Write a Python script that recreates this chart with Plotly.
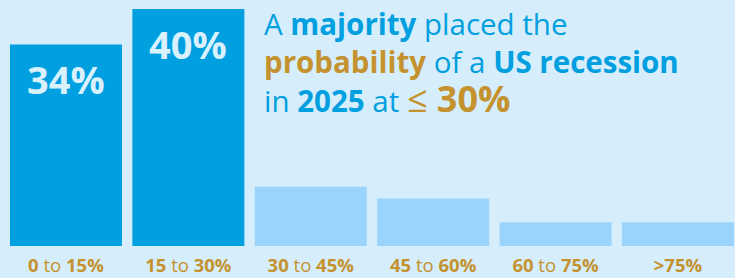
import plotly.graph_objects as go

categories = ["0 to 15%", "15 to 30%", "30 to 45%", "45 to 60%", "60 to 75%", ">75%"]
tick_labels = ["<b>0</b> to <b>15%</b>", "<b>15</b> to <b>30%</b>", "<b>30</b> to <b>45%</b>",
               "<b>45</b> to <b>60%</b>", "<b>60</b> to <b>75%</b>", "<b>>75%</b>"]
values = [34, 40, 10, 8, 4, 4]
value_labels = ["34%", "40%", "", "", "", ""]

BG = "#D6EEFC"
DARK = "#009FE0"
LIGHT = "#9AD4FD"
GOLD = "#C4922F"
BLUE = "#009FE0"

colors = [DARK, DARK, LIGHT, LIGHT, LIGHT, LIGHT]
xpos = list(range(len(categories)))

fig = go.Figure()
fig.add_trace(go.Bar(x=xpos, y=values, marker=dict(color=colors, line=dict(width=0)),
                     width=0.915, hoverinfo="skip"))

for x, v, lab in zip(xpos, values, value_labels):
    if lab:
        fig.add_annotation(x=x, y=v, xref="x", yref="y", text="<b>%s</b>" % lab,
                           showarrow=False, yanchor="middle", yshift=-35,
                           font=dict(family="Open Sans", size=38, color="#D9F0FD"))

title = ("A <b>majority</b> placed the<br>"
         "<b><span style='color:%s'>probability</span></b> of a <b>US recession</b><br>"
         "in <b>2025</b> at <span style='color:%s;font-size:36px'>≤ <b>30%%</b></span>") % (GOLD, GOLD)
fig.add_annotation(x=0.356, y=1.0, xref="paper", yref="paper", xanchor="left", yanchor="top",
                   text=title, showarrow=False, align="left", yshift=-1,
                   font=dict(family="Open Sans", size=29.5, color=BLUE))

fig.update_layout(
    width=735, height=278,
    margin=dict(l=0, r=0, t=0, b=32),
    paper_bgcolor=BG, plot_bgcolor=BG,
    showlegend=False,
    xaxis=dict(range=[-0.539, 5.466], tickvals=xpos, ticktext=tick_labels,
               tickfont=dict(family="Open Sans", size=18.5, color=GOLD),
               ticklabelstandoff=6,
               showgrid=False, zeroline=False, showline=False, ticks="", fixedrange=True),
    yaxis=dict(range=[0, 41.5], visible=False, showgrid=False, zeroline=False, fixedrange=True),
)

fig.write_html("out.html", config={"displayModeBar": False},
               post_script="document.body.style.margin='0';document.body.style.background='%s';" % BG)
